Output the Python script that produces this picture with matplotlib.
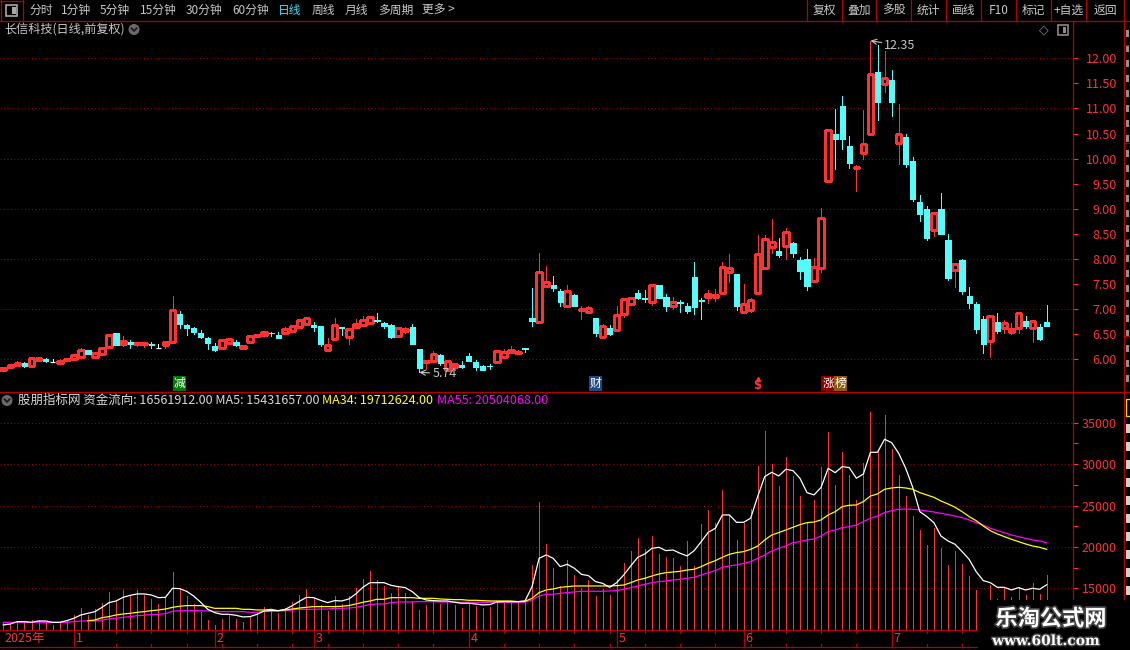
import matplotlib
matplotlib.use('Agg')
import numpy as np
import matplotlib.pyplot as plt
import matplotlib.patheffects as pe
from matplotlib.patches import Rectangle, Circle
from matplotlib.transforms import blended_transform_factory

plt.rcParams['font.family'] = ['Noto Sans CJK SC', 'DejaVu Sans']

# ---- daily candles (open, high, low, close), Dec 2024 .. Jul 2025
opens = [5.79, 5.84, 5.88, 5.92, 5.86, 5.99, 6.01, 5.94, 5.92, 5.99,
         6.00, 6.05, 6.18, 6.05, 6.10, 6.24, 6.53, 6.30, 6.35, 6.31,
         6.31, 6.31, 6.22, 6.28, 6.34, 6.91, 6.69, 6.63, 6.53, 6.43,
         6.27, 6.22, 6.32, 6.35, 6.22, 6.34, 6.46, 6.48, 6.53, 6.49,
         6.53, 6.57, 6.65, 6.71, 6.69, 6.67, 6.19, 6.41, 6.64, 6.45,
         6.65, 6.69, 6.72, 6.79, 6.72, 6.69, 6.47, 6.57, 6.65, 6.21,
         5.94, 5.97, 6.09, 5.79, 5.85, 5.88, 6.07, 5.95, 5.87, 5.87,
         5.95, 6.05, 6.15, 6.12, 6.22, 6.83, 6.75, 7.47, 7.48, 7.36,
         7.07, 7.28, 6.98, 6.95, 6.83, 6.45, 6.62, 6.58, 6.91, 7.11,
         7.32, 7.22, 7.15, 7.48, 7.24, 7.06, 7.15, 7.06, 7.64, 7.18,
         7.25, 7.25, 7.32, 7.74, 7.70, 6.95, 6.99, 7.32, 7.81, 8.23,
         8.15, 8.25, 8.32, 7.98, 7.99, 7.57, 7.81, 9.56, 10.50, 11.04,
         10.25, 9.82, 10.11, 10.50, 11.73, 11.48, 11.57, 10.32, 10.44, 9.95,
         9.13, 8.99, 8.58, 8.99, 8.38, 7.77, 7.98, 7.26, 7.10, 6.80,
         6.37, 6.74, 6.63, 6.54, 6.62, 6.76, 6.63, 6.65, 6.74]
highs = [5.84, 5.88, 5.97, 5.94, 6.02, 6.02, 6.03, 6.00, 6.00, 6.01,
         6.08, 6.23, 6.19, 6.12, 6.22, 6.48, 6.53, 6.47, 6.39, 6.33,
         6.34, 6.34, 6.31, 6.35, 7.27, 6.97, 6.70, 6.65, 6.58, 6.44,
         6.32, 6.38, 6.40, 6.38, 6.29, 6.48, 6.50, 6.57, 6.55, 6.54,
         6.64, 6.67, 6.80, 6.82, 6.75, 6.67, 6.43, 6.83, 6.65, 6.60,
         6.80, 6.87, 6.86, 6.93, 6.74, 6.70, 6.62, 6.64, 6.71, 6.21,
         5.96, 6.16, 6.10, 5.97, 5.90, 5.96, 6.13, 5.99, 5.89, 5.91,
         6.17, 6.21, 6.27, 6.18, 6.23, 7.43, 8.11, 7.85, 7.66, 7.41,
         7.48, 7.31, 7.06, 7.06, 6.83, 6.71, 6.69, 7.06, 7.23, 7.25,
         7.38, 7.38, 7.51, 7.48, 7.30, 7.25, 7.19, 7.13, 7.93, 7.22,
         7.38, 7.41, 7.93, 8.09, 7.70, 7.51, 7.23, 8.47, 8.47, 8.79,
         8.42, 8.61, 8.34, 8.04, 8.19, 8.01, 9.01, 10.57, 10.99, 11.25,
         10.45, 9.87, 10.97, 12.35, 12.27, 12.15, 11.77, 11.09, 10.49, 10.03,
         9.28, 9.06, 8.94, 9.31, 8.50, 7.89, 7.99, 7.44, 7.14, 6.86,
         6.86, 6.92, 6.79, 6.72, 6.93, 6.86, 6.76, 6.70, 7.08]
lows = [5.78, 5.84, 5.88, 5.84, 5.86, 5.96, 5.95, 5.94, 5.92, 5.96,
        6.00, 6.05, 6.10, 6.05, 6.10, 6.24, 6.28, 6.26, 6.23, 6.26,
        6.25, 6.23, 6.22, 6.23, 6.32, 6.63, 6.48, 6.50, 6.42, 6.20,
        6.17, 6.22, 6.32, 6.26, 6.20, 6.34, 6.46, 6.48, 6.47, 6.43,
        6.53, 6.57, 6.65, 6.70, 6.57, 6.27, 6.19, 6.41, 6.48, 6.31,
        6.65, 6.69, 6.72, 6.75, 6.62, 6.43, 6.47, 6.53, 6.31, 5.74,
        5.81, 5.97, 5.89, 5.79, 5.79, 5.82, 5.97, 5.79, 5.79, 5.80,
        5.95, 6.05, 6.15, 6.12, 6.14, 6.67, 6.75, 7.45, 7.36, 7.06,
        7.07, 7.07, 6.81, 6.93, 6.46, 6.43, 6.49, 6.58, 6.85, 7.11,
        7.20, 7.15, 7.09, 7.22, 6.97, 7.00, 6.95, 6.93, 6.90, 6.81,
        7.13, 7.16, 7.30, 7.54, 6.98, 6.95, 6.94, 7.30, 7.81, 8.11,
        8.03, 8.00, 8.03, 7.60, 7.39, 7.57, 7.73, 9.56, 9.79, 10.20,
        9.81, 9.36, 9.99, 10.47, 10.76, 11.32, 10.85, 9.89, 9.84, 9.15,
        8.76, 8.38, 8.46, 8.50, 7.59, 7.45, 7.30, 7.03, 6.53, 6.13,
        6.04, 6.52, 6.52, 6.50, 6.52, 6.62, 6.35, 6.39, 6.67]
closes = [5.83, 5.88, 5.93, 5.86, 6.02, 6.02, 5.97, 5.94, 5.97, 6.01,
          6.08, 6.19, 6.10, 6.12, 6.22, 6.48, 6.29, 6.36, 6.31, 6.33,
          6.33, 6.29, 6.22, 6.35, 6.98, 6.71, 6.63, 6.55, 6.44, 6.32,
          6.18, 6.38, 6.40, 6.28, 6.26, 6.47, 6.49, 6.55, 6.52, 6.43,
          6.61, 6.67, 6.79, 6.82, 6.65, 6.31, 6.28, 6.68, 6.63, 6.60,
          6.71, 6.79, 6.85, 6.77, 6.67, 6.45, 6.62, 6.60, 6.31, 5.83,
          5.96, 6.10, 5.93, 5.97, 5.90, 5.85, 5.97, 5.85, 5.79, 5.86,
          6.17, 6.15, 6.19, 6.15, 6.21, 6.77, 7.73, 7.55, 7.42, 7.15,
          7.36, 7.07, 7.00, 7.02, 6.52, 6.66, 6.50, 6.88, 7.21, 7.23,
          7.23, 7.21, 7.48, 7.23, 7.06, 7.15, 7.13, 6.96, 7.05, 7.17,
          7.31, 7.29, 7.83, 7.81, 7.07, 7.11, 7.18, 8.09, 8.40, 8.34,
          8.07, 8.54, 8.12, 7.75, 7.47, 7.83, 8.81, 10.57, 10.39, 10.40,
          9.92, 9.84, 10.29, 11.69, 11.12, 11.60, 11.12, 10.50, 9.89, 9.19,
          8.90, 8.41, 8.91, 8.50, 7.63, 7.89, 7.37, 7.12, 6.60, 6.30,
          6.86, 6.56, 6.72, 6.60, 6.93, 6.67, 6.76, 6.40, 6.67]

# ---- 资金流向 indicator (display units: /1000)
flow = [10970, 10770, 10970, 10970, 11170, 11170, 10970, 10570, 10970, 11170,
        11780, 12580, 11780, 12460, 13190, 14520, 13590, 14800, 14190, 14800,
        14190, 13710, 13110, 13870, 16970, 15000, 14070, 13110, 12180, 11170,
        10570, 11300, 11780, 11300, 10970, 11580, 11980, 12700, 12380, 11980,
        12580, 13390, 14190, 14920, 13990, 12990, 12300, 14070, 13110, 14070,
        15000, 16090, 17090, 16010, 15280, 14480, 15120, 14480, 13470, 12380,
        12990, 13590, 13110, 13470, 12990, 12580, 13390, 12910, 12660, 12790,
        13270, 13190, 13390, 13390, 13270, 17820, 25430, 20360, 17500, 15280,
        18420, 16610, 15000, 16010, 14070, 14880, 14190, 16130, 18020, 19510,
        21120, 19750, 21320, 19150, 18830, 18620, 17740, 20720, 17700, 22770,
        24460, 22930, 26880, 23860, 20840, 22930, 24620, 29780, 34050, 30020,
        27360, 30830, 28570, 26150, 22970, 25670, 29700, 33890, 27480, 31510,
        28690, 25670, 30100, 36300, 31510, 35940, 31830, 28690, 26150, 23740,
        22050, 20240, 22290, 19910, 17820, 19510, 17940, 16490, 14800, 13500,
        15400, 13670, 15000, 13990, 15120, 14190, 15680, 14320, 16560]
ma5 = [10570, 10690, 10970, 10970, 10890, 11050, 11050, 10890, 10890, 11090,
       11380, 11780, 11980, 12180, 12700, 13270, 13470, 13910, 14150, 14320,
       14320, 14190, 13870, 13910, 15000, 14960, 14640, 14070, 13310, 12460,
       12060, 11860, 11860, 11740, 11540, 11580, 11860, 12260, 12300, 12300,
       12460, 12910, 13430, 13910, 13870, 13550, 13270, 13510, 13470, 13710,
       14320, 15120, 15680, 15680, 15680, 15360, 15200, 15080, 14600, 13870,
       13590, 13510, 13470, 13470, 13310, 13190, 13190, 13110, 12990, 13030,
       13350, 13390, 13390, 13390, 13470, 15200, 18620, 19030, 18620, 17620,
       17900, 17420, 16690, 16530, 15810, 15600, 15120, 15680, 16610, 17700,
       18750, 19150, 19830, 19950, 19550, 19630, 19230, 18910, 19550, 20640,
       21770, 22250, 23860, 23860, 22970, 22970, 23460, 26070, 28490, 29010,
       28570, 29380, 29220, 28290, 26560, 26280, 27200, 29500, 28970, 29700,
       29580, 28290, 28810, 31430, 31430, 33000, 32600, 31310, 29500, 27200,
       24260, 23660, 22930, 21320, 20720, 20320, 19430, 18500, 17010, 15930,
       15680, 15120, 15120, 14800, 15080, 14800, 15000, 14880, 15430]
ma34_start = 12
ma34 = [11090, 11170, 11460, 11580, 11780, 11900, 11980, 12100,
        12180, 12300, 12380, 12500, 12700, 12830, 12910, 12910, 12910, 12790,
        12580, 12580, 12580, 12580, 12460, 12460, 12380, 12380, 12460, 12300,
        12380, 12500, 12620, 12700, 12790, 12790, 12790, 12790, 12830, 12910,
        13110, 13310, 13470, 13670, 13670, 13870, 13870, 13870, 13870, 13790,
        13790, 13790, 13710, 13670, 13630, 13630, 13550, 13550, 13510, 13470,
        13470, 13470, 13470, 13390, 13430, 13790, 14480, 14800, 14920, 15120,
        15200, 15280, 15280, 15280, 15280, 15280, 15280, 15320, 15400, 15680,
        16010, 16210, 16490, 16730, 16890, 16970, 17050, 17210, 17300, 17620,
        18020, 18340, 18750, 19110, 19310, 19430, 19710, 20100, 20840, 21440,
        21730, 22050, 22370, 22690, 22930, 23010, 23260, 23860, 24260, 24870,
        25030, 25070, 25470, 26150, 26400, 26960, 27120, 27200, 27120, 26960,
        26560, 26280, 25990, 25550, 25190, 24790, 24260, 23660, 23170, 22530,
        21970, 21560, 21240, 20920, 20640, 20360, 20110, 19950, 19710]
ma55 = [10890, 10890, 10890, 10890, 10890, 10890, 10890, 10890, 10890, 10890,
        10970, 11050, 11050, 11050, 11170, 11300, 11380, 11500, 11580, 11700,
        11740, 11820, 11860, 11940, 12220, 12300, 12300, 12300, 12300, 12260,
        12220, 12180, 12180, 12180, 12180, 12100, 12100, 12220, 12260, 12260,
        12300, 12380, 12460, 12460, 12460, 12500, 12500, 12580, 12580, 12620,
        12700, 12870, 13030, 13110, 13110, 13270, 13350, 13350, 13350, 13390,
        13390, 13390, 13350, 13350, 13350, 13310, 13310, 13310, 13310, 13310,
        13310, 13310, 13310, 13310, 13310, 13590, 14070, 14280, 14280, 14400,
        14480, 14560, 14640, 14640, 14640, 14640, 14680, 14720, 14880, 15080,
        15280, 15480, 15680, 15810, 15890, 16010, 16090, 16210, 16330, 16610,
        16890, 17130, 17540, 17700, 17820, 18020, 18220, 18620, 19030, 19510,
        19830, 20110, 20520, 20640, 20840, 20960, 21320, 21850, 22050, 22330,
        22450, 22650, 23050, 23460, 23740, 24140, 24380, 24540, 24580, 24540,
        24460, 24340, 24220, 24060, 23900, 23740, 23540, 23260, 22930, 22650,
        22250, 21970, 21730, 21440, 21240, 21040, 20840, 20720, 20500]

legend_vals = ['16561912.00', '15431657.00', '19712624.00', '20504068.00']
price_ticks = [6.0, 6.5, 7.0, 7.5, 8.0, 8.5, 9.0, 9.5, 10.0, 10.5, 11.0, 11.5, 12.0]
price_grid = [6, 7, 8, 9, 10, 11, 12]
flow_ticks = [15000, 20000, 25000, 30000, 35000]
flow_minor = [17500, 22500, 27500, 32500]
month_labels = ['1', '2', '3', '4', '5', '6', '7']
month_start = [10, 30, 44, 66, 87, 105, 126]
events = [(25, '减', '#007a00'), (84, '财', '#1f4a80')]
toolbar_left = [('分时', 29), ('1分钟', 61), ('5分钟', 100), ('15分钟', 140), ('30分钟', 186),
                ('60分钟', 232), ('日线', 278), ('周线', 312), ('月线', 345), ('多周期', 378),
                ('更多 >', 422)]
toolbar_right = ['复权', '叠加', '多股', '统计', '画线', 'F10', '标记', '+自选', '返回']
toolbar_edges = [807, 842, 876, 911, 946, 981, 1016, 1051, 1086, 1124]

W, H = 1130, 650
RED = '#ff3232'
CYAN = '#54fcfc'
FRAME = '#b40000'
GRIDC = '#a00000'
GRAY = '#c8c8c8'

fig = plt.figure(figsize=(W / 100, H / 100), dpi=100, facecolor='black')


def px_axes(x0, y0, x1, y1):
    a = fig.add_axes([x0 / W, 1 - y1 / H, (x1 - x0) / W, (y1 - y0) / H])
    a.set_facecolor('black')
    for s in a.spines.values():
        s.set_visible(False)
    return a


x_lo, x_hi = -3.3 / 7.05, (1073 - 3.3) / 7.05
idx = np.arange(len(opens))

# ---- price panel
ax = px_axes(0, 21, 1073, 391)
ax.set_xlim(x_lo, x_hi)
ax.set_ylim(5.368, 12.743)
for g in price_grid:
    ax.axhline(g, color=GRIDC, lw=0.72, ls=(0, (1, 2.5)), zorder=0)

o, hi, lo, c = map(np.array, (opens, highs, lows, closes))
top = np.maximum(o, c)
bot = np.minimum(o, c)
up = c > o
dn = c < o
fl = c == o
col = np.where(up, RED, np.where(dn, CYAN, 'white'))
ax.vlines(idx, top, hi, colors=col, lw=0.72, antialiased=False)
ax.vlines(idx, lo, bot, colors=col, lw=0.72, antialiased=False)
hgt = np.maximum(top - bot, 0.012)
ax.bar(idx[up], hgt[up], bottom=bot[up], width=0.8, facecolor='black',
       edgecolor=RED, linewidth=0.8, antialiased=False, zorder=3)
ax.bar(idx[dn], hgt[dn], bottom=bot[dn], width=0.74, color=CYAN,
       edgecolor=CYAN, linewidth=0.72, antialiased=False, zorder=3)
ax.hlines(c[fl], idx[fl] - 0.36, idx[fl] + 0.36, colors='white', lw=0.9)

i_hi = int(np.argmax(hi))
i_lo = int(np.argmin(lo))
ax.annotate(f'{hi[i_hi]:.2f}', xy=(i_hi, hi[i_hi]), xytext=(10, -3.5), textcoords='offset points',
            ha='left', va='center', color=GRAY, fontsize=9,
            arrowprops=dict(arrowstyle='->', color=GRAY, lw=0.8, shrinkA=0, shrinkB=0))
ax.annotate(f'{lo[i_lo]:.2f}', xy=(i_lo, lo[i_lo]), xytext=(9.5, -1), textcoords='offset points',
            ha='left', va='center', color=GRAY, fontsize=9,
            arrowprops=dict(arrowstyle='->', color=GRAY, lw=0.8, shrinkA=0, shrinkB=0))

ax.set_xticks([])
ax.yaxis.tick_right()
ax.set_yticks(price_ticks)
ax.set_yticklabels([f'{t:.2f}' for t in price_ticks])
ax.tick_params(axis='y', colors=RED, labelcolor=RED, length=3.6, width=0.8,
               labelsize=9, pad=28, direction='out')
for t in ax.get_yticklabels():
    t.set_horizontalalignment('right')

# ---- money flow panel
ax2 = px_axes(0, 392, 1073, 630)
ax2.set_xlim(x_lo, x_hi)
ax2.set_ylim(9963, 38713)
for g in flow_ticks:
    ax2.axhline(g, color=GRIDC, lw=0.72, ls=(0, (1, 2.5)), zorder=0)
ax2.vlines(idx, 0, flow, colors=RED, lw=0.72, antialiased=False)
ax2.plot(idx, ma55, color='#ff00ff', lw=0.9)
ax2.plot(np.arange(ma34_start, len(opens)), ma34, color='#ffff00', lw=0.9)
ax2.plot(idx, ma5, color='white', lw=0.9)
ax2.set_xticks([])
ax2.yaxis.tick_right()
ax2.set_yticks(flow_ticks)
ax2.set_yticks(flow_minor, minor=True)
ax2.set_yticklabels([str(t) for t in flow_ticks])
ax2.tick_params(axis='y', which='both', colors=RED, labelcolor=RED, length=3.6, width=0.8,
                labelsize=9, pad=28, direction='out')
for t in ax2.get_yticklabels():
    t.set_horizontalalignment('right')

# ---- overlay in pixel coordinates
ov = fig.add_axes([0, 0, 1, 1])
ov.set_xlim(0, W)
ov.set_ylim(H, 0)
ov.axis('off')
ov.patch.set_alpha(0)


def hline(y, x0, x1, **kw):
    ov.plot([x0, x1], [y, y], color=FRAME, lw=0.9, **kw)


def vline(x, y0, y1, **kw):
    ov.plot([x, x], [y0, y1], color=FRAME, lw=0.9, **kw)


# toolbar
hline(20.5, 0, W)
vline(23, 0, 20.5)
vline(0.5, 0, 20.5)
hline(0.5, 0, 23)
ov.add_patch(Rectangle((6, 4.5), 11, 11, fc='none', ec='#a8a8a8', lw=1.2))
ov.add_patch(Rectangle((12, 6.5), 3.5, 7, fc='#a8a8a8', ec='none'))
for label, x in toolbar_left:
    ov.text(x, 10.5, label, color='#3ce0ff' if label == '日线' else GRAY,
            fontsize=8.5, ha='left', va='center')
for k, label in enumerate(toolbar_right):
    ov.text((toolbar_edges[k] + toolbar_edges[k + 1]) / 2, 10.5, label, color=GRAY,
            fontsize=8.5, ha='center', va='center')
for x in toolbar_edges:
    vline(x, 0, 20.5)

# title row
ov.text(4, 29.5, '长信科技(日线,前复权)', color=GRAY, fontsize=8.7, ha='left', va='center')


def chevron(x, y):
    ov.add_patch(Circle((x, y), 5.5, fc='#6a6a6a', ec='none'))
    ov.plot([x - 2.5, x, x + 2.5], [y - 1.2, y + 1.5, y - 1.2], color='#1a1a1a', lw=1.3)


chevron(134, 29.5)
ov.text(1044, 30, '◇', color='#8a8a8a', fontsize=9, ha='center', va='center',
        family='DejaVu Sans')
ov.add_patch(Rectangle((1058, 25), 10, 10, fc='none', ec='#8a8a8a', lw=1.2))
ov.add_patch(Rectangle((1063, 27), 3, 6, fc='#8a8a8a', ec='none'))

# panel frames
vline(1073, 20.5, 650)
vline(1123.5, 0, 650)
hline(391.5, 0, W)
hline(630, 0, 1073)
hline(647, 0, 1073)
for yy in (45, 143, 239, 336):
    hline(yy, 1123.5, W)
ov.add_patch(Rectangle((1125.5, 399), 8, 17, fc='none', ec='#e0e000', lw=0.9))
for yy in range(30, 386, 15):
    ov.add_patch(Rectangle((1126, yy), 3, 7, fc='#909090', ec='none'))
for yy in range(424, 600, 18):
    ov.add_patch(Rectangle((1126, yy), 4, 9, fc='#d0d0d0', ec='none'))

# event markers at the bottom of the price panel
bx = blended_transform_factory(ax.transData, ov.transData)
for i, ch, fc in events:
    ov.text(i, 383.5, ch, transform=bx, color='white', fontsize=8.5, ha='center', va='center',
            bbox=dict(boxstyle='square,pad=0.08', fc=fc, ec='none'))
ov.text(107, 385.5, '$', transform=bx, color=RED, fontsize=8.5, ha='center', va='center',
        fontweight='bold', family='DejaVu Sans')
ov.plot([107], [379], transform=bx, marker='^', ms=3, color=RED)
ov.text(117, 383.5, '涨', transform=bx, color='white', fontsize=8.5, ha='center', va='center',
        bbox=dict(boxstyle='square,pad=0.08', fc='#8c0000', ec='none'))
ov.text(118.75, 383.5, '榜', transform=bx, color='white', fontsize=8.5, ha='center', va='center',
        bbox=dict(boxstyle='square,pad=0.08', fc='#8a5a10', ec='none'))

# indicator header
chevron(7, 400.5)
ov.text(18, 400.5, f'股朋指标网 资金流向: {legend_vals[0]} MA5: {legend_vals[1]}',
        color='#d8d8d8', fontsize=9, ha='left', va='center')
ov.text(322, 400.5, f'MA34: {legend_vals[2]}', color='#ffff00', fontsize=9, ha='left', va='center')
ov.text(437, 400.5, f'MA55: {legend_vals[3]}', color='#ff00ff', fontsize=9, ha='left', va='center')

# date axis
dx = blended_transform_factory(ax2.transData, ov.transData)
ov.text(4, 638.5, '2025年', color=RED, fontsize=9, ha='left', va='center')
for lab, i in zip(month_labels, month_start):
    ov.plot([i, i], [630, 647], transform=dx, color=FRAME, lw=0.9)
    ov.text(i + 0.3, 638.5, lab, transform=dx, color=RED, fontsize=9, ha='left', va='center')
for i in range(16, len(opens), 5):
    ov.plot([i, i], [630, 633], transform=dx, color=FRAME, lw=0.9)
    ov.plot([i, i], [644, 647], transform=dx, color=FRAME, lw=0.9)

# watermark block
ov.add_patch(Rectangle((978, 600), 152, 50, fc='black', ec='none', zorder=10))
ov.text(1051, 619, '乐淘公式网', color='white', fontsize=16, fontweight='bold', ha='center',
        va='center', zorder=11,
        path_effects=[pe.withStroke(linewidth=2.5, foreground='#404040')])
ov.text(1046, 641, 'www.60lt.com', color='white', fontsize=10, fontweight='bold',
        family='DejaVu Serif', ha='center', va='center', zorder=11,
        path_effects=[pe.withStroke(linewidth=2, foreground='#404040')])

fig.savefig('out.png', dpi=100, facecolor='black')
